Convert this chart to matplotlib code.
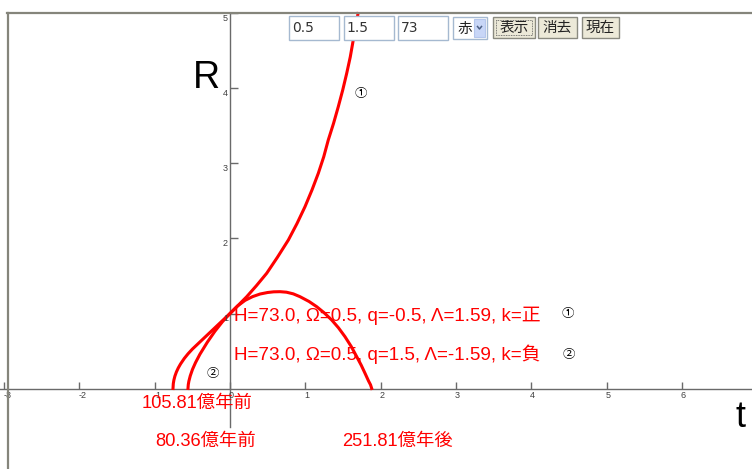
import numpy as np
import matplotlib.pyplot as plt
from matplotlib.patches import Rectangle

plt.rcParams['font.family'] = ['Liberation Sans', 'Noto Sans CJK JP', 'DejaVu Sans']

# curve 1 : H=73, Omega=0.5, q=-0.5  (t in Hubble times, R scale factor)
t1 = [-0.757, -0.753, -0.745, -0.732, -0.712, -0.687, -0.657, -0.607, -0.557, -0.50,
      -0.40, -0.30, -0.20, -0.10, 0.0, 0.11, 0.222, 0.35, 0.487, 0.63, 0.775, 0.89, 0.996,
      1.09, 1.173, 1.245, 1.305, 1.375, 1.438, 1.497, 1.550, 1.597, 1.637, 1.672, 1.70]
r1 = [0.0, 0.065, 0.113, 0.164, 0.22, 0.274, 0.327, 0.401, 0.463, 0.525,
      0.62, 0.715, 0.81, 0.905, 1.0, 1.11, 1.224, 1.37, 1.536, 1.75, 1.98, 2.20, 2.424,
      2.65, 2.87, 3.09, 3.313, 3.535, 3.757, 3.98, 4.203, 4.42, 4.647, 4.83, 5.0]

# curve 2 : H=73, Omega=0.5, q=1.5
t2 = [-0.558, -0.554, -0.546, -0.528, -0.498, -0.458, -0.40, -0.30, -0.20, -0.10, 0.0,
      0.10, 0.20, 0.30, 0.40, 0.50, 0.58, 0.664, 0.75, 0.84, 0.93, 1.05, 1.151, 1.25,
      1.351, 1.44, 1.527, 1.61, 1.683, 1.743, 1.793, 1.84, 1.866, 1.882]
r2 = [0.0, 0.052, 0.098, 0.168, 0.255, 0.345, 0.456, 0.619, 0.764, 0.891, 1.0,
      1.10, 1.175, 1.225, 1.26, 1.28, 1.289, 1.291, 1.284, 1.262, 1.224, 1.16, 1.091, 1.01,
      0.913, 0.81, 0.691, 0.56, 0.424, 0.31, 0.203, 0.10, 0.05, 0.0]

xticks = [-3, -2, -1, 0, 1, 2, 3, 4, 5, 6]
yticks = [1, 2, 3, 4, 5]

label1 = "H=73.0, Ω=0.5, q=-0.5, Λ=1.59, k=正"
label2 = "H=73.0, Ω=0.5, q=1.5, Λ=-1.59, k=負"
ages = ["105.81億年前", "80.36億年前", "251.81億年後"]
inputs = ["0.5", "1.5", "73"]
buttons = ["表示", "消去", "現在"]

fig = plt.figure(figsize=(7.52, 4.69), dpi=100)

# data axes (75.3 px per unit in t, 75 px per unit in R)
ax = fig.add_axes([0, 0, 1, 1])
sx, sy = 75.3, 75.0
ax.set_xlim(-230 / sx, (752 - 230) / sx)
ax.set_ylim((388.5 - 469) / sy, 388.5 / sy)
ax.axis('off')

axcol = '#6a6a6a'
ax.plot([-3.1, 7.0], [0, 0], color=axcol, lw=1.0, zorder=1)
ax.plot([0, 0], [-0.51, 5.0], color=axcol, lw=1.0, zorder=1)
ax.vlines(xticks, 0, 7 / sy, color=axcol, lw=1.0)
ax.hlines(yticks, 0, 8 / sx, color=axcol, lw=1.0)
for v in xticks:
    ax.text(v - 1 / sx, -2.5 / sy, str(v), fontsize=6.5, color='#404040', ha='left', va='top')
for v in yticks:
    ax.text(-2 / sx, v - 0.5 / sy, str(v), fontsize=6.5, color='#404040', ha='right', va='top')

ax.plot(t1, r1, color='red', lw=2.2, zorder=2, solid_joinstyle='round')
ax.plot(t2, r2, color='red', lw=2.2, zorder=2, solid_joinstyle='round')

# overlay in pixel coordinates
ui = fig.add_axes([0, 0, 1, 1], zorder=3)
ui.set_xlim(0, 752)
ui.set_ylim(469, 0)
ui.axis('off')
ui.patch.set_alpha(0)

fcol = '#85857b'
ui.plot([7.5, 7.5], [13, 469], color=fcol, lw=1.6)
ui.plot([7, 752], [13.5, 13.5], color=fcol, lw=1.6)

ui.text(193, 87.5, "R", fontsize=27, color='black', va='baseline')
ui.text(735, 427, "t", fontsize=26, color='black', va='baseline')

ui.text(234, 321, label1, fontsize=13.6, color='red', va='baseline')
ui.text(234, 359.5, label2, fontsize=13.6, color='red', va='baseline')
ui.text(567.5, 314, "①", fontsize=9, family='Noto Sans CJK JP', ha='center', va='center')
ui.text(569, 354.5, "②", fontsize=9, family='Noto Sans CJK JP', ha='center', va='center')
ui.text(361, 93.5, "①", fontsize=9, family='Noto Sans CJK JP', ha='center', va='center')
ui.text(213, 373, "②", fontsize=9, family='Noto Sans CJK JP', ha='center', va='center')

ui.text(142, 408, ages[0], fontsize=13.2, color='red', va='baseline')
ui.text(155, 446, ages[1], fontsize=13.2, color='red', va='baseline')
ui.text(342, 446, ages[2], fontsize=13.2, color='red', va='baseline')

# form widgets at the top
for i, s in enumerate(inputs):
    x0 = 289 + i * 54.5
    ui.add_patch(Rectangle((x0, 16), 50, 24, facecolor='white', edgecolor='#a5b9d0', lw=1.0, zorder=4))
    ui.text(x0 + 3, 28, s, fontsize=10, color='#333333', va='center', zorder=5,
            family=['DejaVu Sans'])
ui.add_patch(Rectangle((453, 17), 34, 22, facecolor='white', edgecolor='#a5b9d0', lw=1.0, zorder=4))
ui.text(457, 28.5, "赤", fontsize=10.5, family='Noto Sans CJK JP', color='#222222', va='center', zorder=5)
ui.add_patch(Rectangle((474, 19), 11, 18, facecolor='#c8d6f7', edgecolor='#b5c6ec', lw=0.8, zorder=5))
ui.plot([477.5, 479.5, 481.5], [26.5, 29, 26.5], color='#4d6185', lw=1.1, zorder=6)

bx = [(493, 42), (538, 39), (582, 37)]
for (x0, w), s in zip(bx, buttons):
    ui.add_patch(Rectangle((x0, 17), w, 21, facecolor='#ece9d8', edgecolor='#8a8a80', lw=1.0, zorder=4))
    ui.text(x0 + w / 2, 28, s, fontsize=10.5, family='Noto Sans CJK JP', color='#222222',
            ha='center', va='center', zorder=5)
ui.add_patch(Rectangle((496, 20), 36, 15, facecolor='none', edgecolor='#555555', lw=0.6,
                       linestyle=(0, (1, 1)), zorder=5))

fig.savefig('out.png', dpi=100)
